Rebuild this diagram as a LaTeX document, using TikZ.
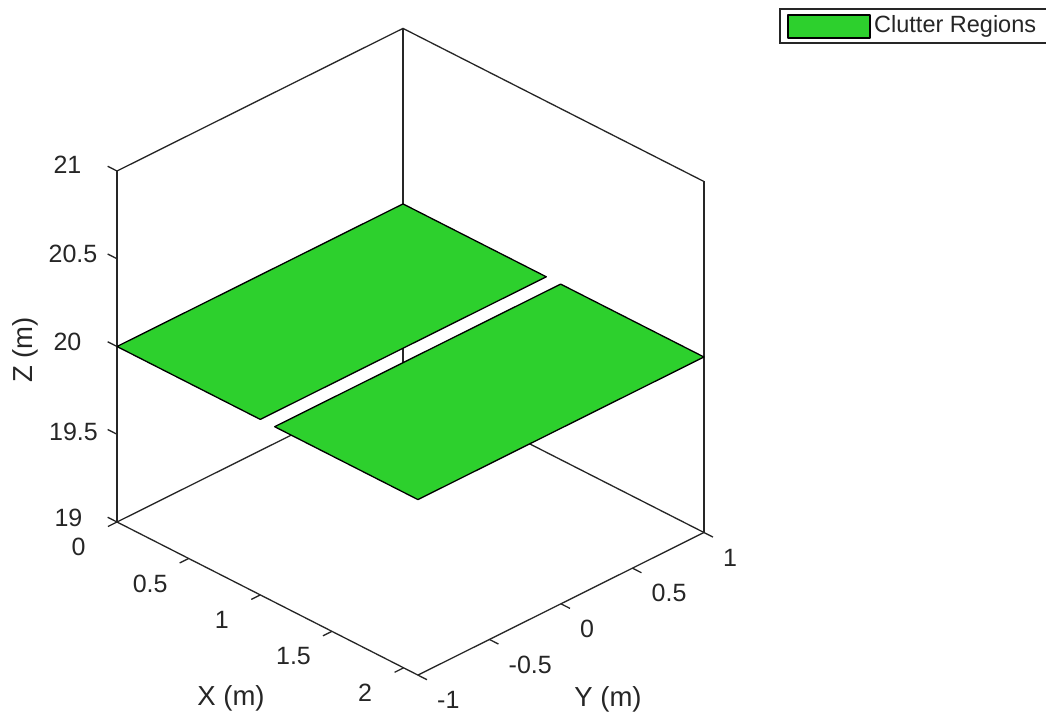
\documentclass[tikz,border=0pt]{standalone}
\usepackage{fontspec}
\setmainfont{Liberation Sans}
\definecolor{axgray}{RGB}{38,38,38}
\definecolor{clutter}{RGB}{45,208,45}
\begin{document}
\begin{tikzpicture}[x=1pt,y=-1pt,
  axline/.style={draw=axgray,line width=1.3pt},
  ticklbl/.style={text=axgray,font=\fontsize{25}{30}\selectfont,inner sep=0pt},
  axlbl/.style={text=axgray,font=\fontsize{27.5}{33}\selectfont,inner sep=0pt},
  region/.style={fill=clutter,draw=black,line width=1.3pt,line join=round}]
\useasboundingbox (0,0) rectangle (1046,715);
\fill[white] (0,0) rectangle (1046,715);
\begin{scope}[shift={(117,522)},x={(143.3pt,-72.9pt)},y={(143pt,71.3pt)},z={(0pt,175.5pt)}]
  % box corners (u = x, v = y+1, w = z-19)
  \coordinate (L0) at (0,0,0);
  \coordinate (L1) at (0,0,2);
  \coordinate (B0) at (0,2,0);
  \coordinate (B1) at (0,2,2);
  \coordinate (R0) at (2.1,2,0);
  \coordinate (R1) at (2.1,2,2);
  \coordinate (F0) at (2.1,0,0);
  % box lines
  \draw[axline] (L0) -- (L1);
  \draw[axline] (B0) -- (B1);
  \draw[axline] (R0) -- (R1);
  \draw[axline] (L1) -- (B1) -- (R1);
  \draw[axline] (L0) -- (B0) -- (R0);
  \draw[axline] (L0) -- (F0) -- (R0);
  % ticks
  \foreach \w in {0,0.5,1,1.5,2} \draw[axline] (0,0,\w) -- (-0.065,0,\w);
  \foreach \u in {0,0.5,1,1.5,2} \draw[axline] (\u,0,0) -- (\u,-0.063,0);
  \foreach \v in {0,0.5,1,1.5,2} \draw[axline] (2.1,\v,0) -- (2.163,\v,0);
  % clutter regions
  \draw[region] (0,0,1) -- (0,2,1) -- (1,2,1) -- (1,0,1) -- cycle;
  \draw[region] (1.1,0,1) -- (1.1,2,1) -- (2.1,2,1) -- (2.1,0,1) -- cycle;
\end{scope}
% Z tick labels
\node[ticklbl] (z21) at (67.5,165) {21};
\node[ticklbl] (z205) at (73,254) {20.5};
\node[ticklbl] (z20) at (67.5,342) {20};
\node[ticklbl] (z195) at (73.5,432) {19.5};
\node[ticklbl] (z19) at (68.5,518) {19};
% X tick labels
\node[ticklbl] (x0) at (78.5,547) {0};
\node[ticklbl] (x05) at (150.2,583.5) {0.5};
\node[ticklbl] (x1) at (221.8,620) {1};
\node[ticklbl] (x15) at (293.5,656.4) {1.5};
\node[ticklbl] (x2) at (365.1,692.8) {2};
% Y tick labels
\node[ticklbl,anchor=west] (ym1) at (437,700) {-1};
\node[ticklbl,anchor=west] (ym05) at (508.5,664.4) {-0.5};
\node[ticklbl,anchor=west] (y0) at (580,628.7) {0};
\node[ticklbl,anchor=west] (y05) at (651.5,593) {0.5};
\node[ticklbl,anchor=west] (y1) at (723,557.4) {1};
% axis labels
\node[axlbl,rotate=90] (zl) at (25,350) {Z (m)};
\node[axlbl] (xl) at (231,698) {X (m)};
\node[axlbl] (yl) at (608,699) {Y (m)};
% legend
\draw[draw=axgray,line width=1.2pt,fill=white] (780,9) rectangle (1050,43);
\draw[region] (788,15) rectangle (870,38);
\node[text=axgray,font=\fontsize{23.5}{28}\selectfont,inner sep=0pt,anchor=west] (leg) at (874,26.5) {Clutter Regions};
\end{tikzpicture}
\end{document}
